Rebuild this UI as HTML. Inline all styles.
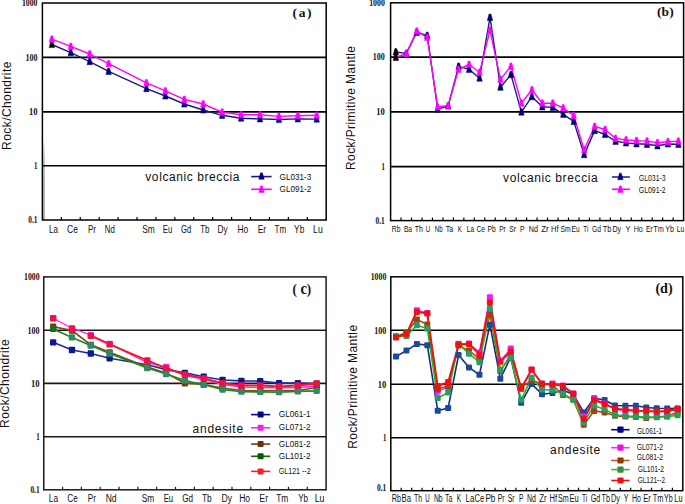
<!DOCTYPE html>
<html><head><meta charset="utf-8"><style>
html,body{margin:0;padding:0;background:#fff;}
svg{display:block;}
</style></head><body>
<svg width="685" height="504" viewBox="0 0 685 504">
<rect width="685" height="504" fill="#fff"/>
<defs><linearGradient id="gs" x1="0" y1="0" x2="0" y2="1"><stop offset="0" stop-color="#fff"/><stop offset="0.25" stop-color="#c4c4c4"/><stop offset="1" stop-color="#b4b4b4"/></linearGradient></defs>
<rect x="43.1" y="140" width="1.9" height="80" fill="url(#gs)"/>
<line x1="42.4" y1="57.4" x2="326.2" y2="57.4" stroke="#000" stroke-width="1.6"/>
<line x1="42.4" y1="111.9" x2="326.2" y2="111.9" stroke="#000" stroke-width="1.6"/>
<line x1="42.4" y1="165.7" x2="326.2" y2="165.7" stroke="#000" stroke-width="1.6"/>
<rect x="42.4" y="3" width="283.8" height="217" fill="none" stroke="#000" stroke-width="1.5"/>
<line x1="61.32" y1="220" x2="61.32" y2="217" stroke="#000" stroke-width="1.2"/>
<line x1="80.24" y1="220" x2="80.24" y2="217" stroke="#000" stroke-width="1.2"/>
<line x1="99.16" y1="220" x2="99.16" y2="217" stroke="#000" stroke-width="1.2"/>
<line x1="118.08" y1="220" x2="118.08" y2="217" stroke="#000" stroke-width="1.2"/>
<line x1="137" y1="220" x2="137" y2="217" stroke="#000" stroke-width="1.2"/>
<line x1="155.92" y1="220" x2="155.92" y2="217" stroke="#000" stroke-width="1.2"/>
<line x1="174.84" y1="220" x2="174.84" y2="217" stroke="#000" stroke-width="1.2"/>
<line x1="193.76" y1="220" x2="193.76" y2="217" stroke="#000" stroke-width="1.2"/>
<line x1="212.68" y1="220" x2="212.68" y2="217" stroke="#000" stroke-width="1.2"/>
<line x1="231.6" y1="220" x2="231.6" y2="217" stroke="#000" stroke-width="1.2"/>
<line x1="250.52" y1="220" x2="250.52" y2="217" stroke="#000" stroke-width="1.2"/>
<line x1="269.44" y1="220" x2="269.44" y2="217" stroke="#000" stroke-width="1.2"/>
<line x1="288.36" y1="220" x2="288.36" y2="217" stroke="#000" stroke-width="1.2"/>
<line x1="307.28" y1="220" x2="307.28" y2="217" stroke="#000" stroke-width="1.2"/>
<line x1="390.6" y1="57.1" x2="683.6" y2="57.1" stroke="#000" stroke-width="1.6"/>
<line x1="390.6" y1="111.9" x2="683.6" y2="111.9" stroke="#000" stroke-width="1.6"/>
<line x1="390.6" y1="166.6" x2="683.6" y2="166.6" stroke="#000" stroke-width="1.6"/>
<rect x="390.6" y="2.8" width="293" height="217.8" fill="none" stroke="#000" stroke-width="1.5"/>
<line x1="401.06" y1="220.6" x2="401.06" y2="217.6" stroke="#000" stroke-width="1.2"/>
<line x1="411.53" y1="220.6" x2="411.53" y2="217.6" stroke="#000" stroke-width="1.2"/>
<line x1="421.99" y1="220.6" x2="421.99" y2="217.6" stroke="#000" stroke-width="1.2"/>
<line x1="432.46" y1="220.6" x2="432.46" y2="217.6" stroke="#000" stroke-width="1.2"/>
<line x1="442.92" y1="220.6" x2="442.92" y2="217.6" stroke="#000" stroke-width="1.2"/>
<line x1="453.39" y1="220.6" x2="453.39" y2="217.6" stroke="#000" stroke-width="1.2"/>
<line x1="463.85" y1="220.6" x2="463.85" y2="217.6" stroke="#000" stroke-width="1.2"/>
<line x1="474.31" y1="220.6" x2="474.31" y2="217.6" stroke="#000" stroke-width="1.2"/>
<line x1="484.78" y1="220.6" x2="484.78" y2="217.6" stroke="#000" stroke-width="1.2"/>
<line x1="495.24" y1="220.6" x2="495.24" y2="217.6" stroke="#000" stroke-width="1.2"/>
<line x1="505.71" y1="220.6" x2="505.71" y2="217.6" stroke="#000" stroke-width="1.2"/>
<line x1="516.17" y1="220.6" x2="516.17" y2="217.6" stroke="#000" stroke-width="1.2"/>
<line x1="526.64" y1="220.6" x2="526.64" y2="217.6" stroke="#000" stroke-width="1.2"/>
<line x1="537.1" y1="220.6" x2="537.1" y2="217.6" stroke="#000" stroke-width="1.2"/>
<line x1="547.56" y1="220.6" x2="547.56" y2="217.6" stroke="#000" stroke-width="1.2"/>
<line x1="558.03" y1="220.6" x2="558.03" y2="217.6" stroke="#000" stroke-width="1.2"/>
<line x1="568.49" y1="220.6" x2="568.49" y2="217.6" stroke="#000" stroke-width="1.2"/>
<line x1="578.96" y1="220.6" x2="578.96" y2="217.6" stroke="#000" stroke-width="1.2"/>
<line x1="589.42" y1="220.6" x2="589.42" y2="217.6" stroke="#000" stroke-width="1.2"/>
<line x1="599.89" y1="220.6" x2="599.89" y2="217.6" stroke="#000" stroke-width="1.2"/>
<line x1="610.35" y1="220.6" x2="610.35" y2="217.6" stroke="#000" stroke-width="1.2"/>
<line x1="620.81" y1="220.6" x2="620.81" y2="217.6" stroke="#000" stroke-width="1.2"/>
<line x1="631.28" y1="220.6" x2="631.28" y2="217.6" stroke="#000" stroke-width="1.2"/>
<line x1="641.74" y1="220.6" x2="641.74" y2="217.6" stroke="#000" stroke-width="1.2"/>
<line x1="652.21" y1="220.6" x2="652.21" y2="217.6" stroke="#000" stroke-width="1.2"/>
<line x1="662.67" y1="220.6" x2="662.67" y2="217.6" stroke="#000" stroke-width="1.2"/>
<line x1="673.14" y1="220.6" x2="673.14" y2="217.6" stroke="#000" stroke-width="1.2"/>
<line x1="43.75" y1="330.2" x2="326.1" y2="330.2" stroke="#221616" stroke-width="1.6"/>
<line x1="43.75" y1="383.4" x2="326.1" y2="383.4" stroke="#221616" stroke-width="1.6"/>
<line x1="43.75" y1="436.7" x2="326.1" y2="436.7" stroke="#221616" stroke-width="1.6"/>
<rect x="43.75" y="276.9" width="282.35" height="212.9" fill="none" stroke="#221616" stroke-width="1.5"/>
<line x1="62.57" y1="489.8" x2="62.57" y2="486.8" stroke="#221616" stroke-width="1.2"/>
<line x1="81.4" y1="489.8" x2="81.4" y2="486.8" stroke="#221616" stroke-width="1.2"/>
<line x1="100.22" y1="489.8" x2="100.22" y2="486.8" stroke="#221616" stroke-width="1.2"/>
<line x1="119.04" y1="489.8" x2="119.04" y2="486.8" stroke="#221616" stroke-width="1.2"/>
<line x1="137.87" y1="489.8" x2="137.87" y2="486.8" stroke="#221616" stroke-width="1.2"/>
<line x1="156.69" y1="489.8" x2="156.69" y2="486.8" stroke="#221616" stroke-width="1.2"/>
<line x1="175.51" y1="489.8" x2="175.51" y2="486.8" stroke="#221616" stroke-width="1.2"/>
<line x1="194.34" y1="489.8" x2="194.34" y2="486.8" stroke="#221616" stroke-width="1.2"/>
<line x1="213.16" y1="489.8" x2="213.16" y2="486.8" stroke="#221616" stroke-width="1.2"/>
<line x1="231.98" y1="489.8" x2="231.98" y2="486.8" stroke="#221616" stroke-width="1.2"/>
<line x1="250.81" y1="489.8" x2="250.81" y2="486.8" stroke="#221616" stroke-width="1.2"/>
<line x1="269.63" y1="489.8" x2="269.63" y2="486.8" stroke="#221616" stroke-width="1.2"/>
<line x1="288.45" y1="489.8" x2="288.45" y2="486.8" stroke="#221616" stroke-width="1.2"/>
<line x1="307.28" y1="489.8" x2="307.28" y2="486.8" stroke="#221616" stroke-width="1.2"/>
<line x1="390.8" y1="330.2" x2="682.8" y2="330.2" stroke="#000" stroke-width="1.6"/>
<line x1="390.8" y1="384.3" x2="682.8" y2="384.3" stroke="#000" stroke-width="1.6"/>
<line x1="390.8" y1="437.8" x2="682.8" y2="437.8" stroke="#000" stroke-width="1.6"/>
<rect x="390.8" y="276.8" width="292" height="213.9" fill="none" stroke="#000" stroke-width="1.5"/>
<line x1="401.23" y1="490.7" x2="401.23" y2="487.7" stroke="#000" stroke-width="1.2"/>
<line x1="411.66" y1="490.7" x2="411.66" y2="487.7" stroke="#000" stroke-width="1.2"/>
<line x1="422.09" y1="490.7" x2="422.09" y2="487.7" stroke="#000" stroke-width="1.2"/>
<line x1="432.51" y1="490.7" x2="432.51" y2="487.7" stroke="#000" stroke-width="1.2"/>
<line x1="442.94" y1="490.7" x2="442.94" y2="487.7" stroke="#000" stroke-width="1.2"/>
<line x1="453.37" y1="490.7" x2="453.37" y2="487.7" stroke="#000" stroke-width="1.2"/>
<line x1="463.8" y1="490.7" x2="463.8" y2="487.7" stroke="#000" stroke-width="1.2"/>
<line x1="474.23" y1="490.7" x2="474.23" y2="487.7" stroke="#000" stroke-width="1.2"/>
<line x1="484.66" y1="490.7" x2="484.66" y2="487.7" stroke="#000" stroke-width="1.2"/>
<line x1="495.09" y1="490.7" x2="495.09" y2="487.7" stroke="#000" stroke-width="1.2"/>
<line x1="505.51" y1="490.7" x2="505.51" y2="487.7" stroke="#000" stroke-width="1.2"/>
<line x1="515.94" y1="490.7" x2="515.94" y2="487.7" stroke="#000" stroke-width="1.2"/>
<line x1="526.37" y1="490.7" x2="526.37" y2="487.7" stroke="#000" stroke-width="1.2"/>
<line x1="536.8" y1="490.7" x2="536.8" y2="487.7" stroke="#000" stroke-width="1.2"/>
<line x1="547.23" y1="490.7" x2="547.23" y2="487.7" stroke="#000" stroke-width="1.2"/>
<line x1="557.66" y1="490.7" x2="557.66" y2="487.7" stroke="#000" stroke-width="1.2"/>
<line x1="568.09" y1="490.7" x2="568.09" y2="487.7" stroke="#000" stroke-width="1.2"/>
<line x1="578.51" y1="490.7" x2="578.51" y2="487.7" stroke="#000" stroke-width="1.2"/>
<line x1="588.94" y1="490.7" x2="588.94" y2="487.7" stroke="#000" stroke-width="1.2"/>
<line x1="599.37" y1="490.7" x2="599.37" y2="487.7" stroke="#000" stroke-width="1.2"/>
<line x1="609.8" y1="490.7" x2="609.8" y2="487.7" stroke="#000" stroke-width="1.2"/>
<line x1="620.23" y1="490.7" x2="620.23" y2="487.7" stroke="#000" stroke-width="1.2"/>
<line x1="630.66" y1="490.7" x2="630.66" y2="487.7" stroke="#000" stroke-width="1.2"/>
<line x1="641.09" y1="490.7" x2="641.09" y2="487.7" stroke="#000" stroke-width="1.2"/>
<line x1="651.51" y1="490.7" x2="651.51" y2="487.7" stroke="#000" stroke-width="1.2"/>
<line x1="661.94" y1="490.7" x2="661.94" y2="487.7" stroke="#000" stroke-width="1.2"/>
<line x1="672.37" y1="490.7" x2="672.37" y2="487.7" stroke="#000" stroke-width="1.2"/>
<polyline points="51.86,44.5 70.78,52.6 89.7,61.6 108.62,71.4 146.46,88.6 165.38,96 184.3,104 203.22,110 222.14,115.3 241.06,118.2 259.98,118.9 278.9,119.5 297.82,118.9 316.74,119.1" fill="none" stroke="#1a1a80" stroke-width="1.4" stroke-linejoin="round"/>
<polyline points="51.86,39.1 70.78,46.4 89.7,54 108.62,63.6 146.46,82.8 165.38,90.8 184.3,99.4 203.22,104 222.14,112.1 241.06,114.7 259.98,114.8 278.9,116.4 297.82,115.7 316.74,115.2" fill="none" stroke="#ff00ff" stroke-width="1.4" stroke-linejoin="round"/>
<polygon points="50.96,41.1 52.76,41.1 54.56,47.6 49.16,47.6" fill="#000" stroke="#000" stroke-width="0.5" stroke-linejoin="round"/>
<polygon points="69.88,49.2 71.68,49.2 73.48,55.7 68.08,55.7" fill="#000080" stroke="#000080" stroke-width="0.5" stroke-linejoin="round"/>
<polygon points="88.8,58.2 90.6,58.2 92.4,64.7 87,64.7" fill="#000080" stroke="#000080" stroke-width="0.5" stroke-linejoin="round"/>
<polygon points="107.72,68 109.52,68 111.32,74.5 105.92,74.5" fill="#000080" stroke="#000080" stroke-width="0.5" stroke-linejoin="round"/>
<polygon points="145.56,85.2 147.36,85.2 149.16,91.7 143.76,91.7" fill="#000080" stroke="#000080" stroke-width="0.5" stroke-linejoin="round"/>
<polygon points="164.48,92.6 166.28,92.6 168.08,99.1 162.68,99.1" fill="#000080" stroke="#000080" stroke-width="0.5" stroke-linejoin="round"/>
<polygon points="183.4,100.6 185.2,100.6 187,107.1 181.6,107.1" fill="#000080" stroke="#000080" stroke-width="0.5" stroke-linejoin="round"/>
<polygon points="202.32,106.6 204.12,106.6 205.92,113.1 200.52,113.1" fill="#000080" stroke="#000080" stroke-width="0.5" stroke-linejoin="round"/>
<polygon points="221.24,111.9 223.04,111.9 224.84,118.4 219.44,118.4" fill="#000080" stroke="#000080" stroke-width="0.5" stroke-linejoin="round"/>
<polygon points="240.16,114.8 241.96,114.8 243.76,121.3 238.36,121.3" fill="#000080" stroke="#000080" stroke-width="0.5" stroke-linejoin="round"/>
<polygon points="259.08,115.5 260.88,115.5 262.68,122 257.28,122" fill="#000080" stroke="#000080" stroke-width="0.5" stroke-linejoin="round"/>
<polygon points="278,116.1 279.8,116.1 281.6,122.6 276.2,122.6" fill="#000080" stroke="#000080" stroke-width="0.5" stroke-linejoin="round"/>
<polygon points="296.92,115.5 298.72,115.5 300.52,122 295.12,122" fill="#000080" stroke="#000080" stroke-width="0.5" stroke-linejoin="round"/>
<polygon points="315.84,115.7 317.64,115.7 319.44,122.2 314.04,122.2" fill="#000080" stroke="#000080" stroke-width="0.5" stroke-linejoin="round"/>
<polygon points="50.96,35.7 52.76,35.7 54.56,42.2 49.16,42.2" fill="#ff00ff" stroke="#ff00ff" stroke-width="0.5" stroke-linejoin="round"/>
<polygon points="69.88,43 71.68,43 73.48,49.5 68.08,49.5" fill="#ff00ff" stroke="#ff00ff" stroke-width="0.5" stroke-linejoin="round"/>
<polygon points="88.8,50.6 90.6,50.6 92.4,57.1 87,57.1" fill="#ff00ff" stroke="#ff00ff" stroke-width="0.5" stroke-linejoin="round"/>
<polygon points="107.72,60.2 109.52,60.2 111.32,66.7 105.92,66.7" fill="#ff00ff" stroke="#ff00ff" stroke-width="0.5" stroke-linejoin="round"/>
<polygon points="145.56,79.4 147.36,79.4 149.16,85.9 143.76,85.9" fill="#ff00ff" stroke="#ff00ff" stroke-width="0.5" stroke-linejoin="round"/>
<polygon points="164.48,87.4 166.28,87.4 168.08,93.9 162.68,93.9" fill="#ff00ff" stroke="#ff00ff" stroke-width="0.5" stroke-linejoin="round"/>
<polygon points="183.4,96 185.2,96 187,102.5 181.6,102.5" fill="#ff00ff" stroke="#ff00ff" stroke-width="0.5" stroke-linejoin="round"/>
<polygon points="202.32,100.6 204.12,100.6 205.92,107.1 200.52,107.1" fill="#ff00ff" stroke="#ff00ff" stroke-width="0.5" stroke-linejoin="round"/>
<polygon points="221.24,108.7 223.04,108.7 224.84,115.2 219.44,115.2" fill="#ff00ff" stroke="#ff00ff" stroke-width="0.5" stroke-linejoin="round"/>
<polygon points="240.16,111.3 241.96,111.3 243.76,117.8 238.36,117.8" fill="#ff00ff" stroke="#ff00ff" stroke-width="0.5" stroke-linejoin="round"/>
<polygon points="259.08,111.4 260.88,111.4 262.68,117.9 257.28,117.9" fill="#ff00ff" stroke="#ff00ff" stroke-width="0.5" stroke-linejoin="round"/>
<polygon points="278,113 279.8,113 281.6,119.5 276.2,119.5" fill="#ff00ff" stroke="#ff00ff" stroke-width="0.5" stroke-linejoin="round"/>
<polygon points="296.92,112.3 298.72,112.3 300.52,118.8 295.12,118.8" fill="#ff00ff" stroke="#ff00ff" stroke-width="0.5" stroke-linejoin="round"/>
<polygon points="315.84,111.8 317.64,111.8 319.44,118.3 314.04,118.3" fill="#ff00ff" stroke="#ff00ff" stroke-width="0.5" stroke-linejoin="round"/>
<polyline points="395.83,52 406.3,53.4 416.76,32.5 427.23,35.5 437.69,109.2 448.15,106 458.62,66.3 469.08,69.3 479.55,78.2 490.01,17.4 500.48,87.2 510.94,74.6 521.4,112.1 531.87,96.7 542.33,106.8 552.8,107.4 563.26,114.3 573.73,121.3 584.19,154.6 594.65,130.6 605.12,134.5 615.58,141.3 626.05,142.9 636.51,143.8 646.98,144.3 657.44,145.8 667.9,144 678.37,144.3" fill="none" stroke="#1a1a80" stroke-width="1.4" stroke-linejoin="round"/>
<polyline points="395.83,57.5 406.3,53.6 416.76,31.1 427.23,37.3 437.69,106.8 448.15,105.6 458.62,69.3 469.08,64.5 479.55,72.3 490.01,30.4 500.48,79.4 510.94,66.3 521.4,103.2 531.87,89.8 542.33,103.2 552.8,103.2 563.26,108 573.73,115.7 584.19,149.7 594.65,126.4 605.12,129.5 615.58,138.4 626.05,140 636.51,140.6 646.98,141.1 657.44,142.7 667.9,141.7 678.37,141.1" fill="none" stroke="#ff00ff" stroke-width="1.4" stroke-linejoin="round"/>
<polygon points="394.93,48.6 396.73,48.6 398.53,55.1 393.13,55.1" fill="#000" stroke="#000" stroke-width="0.5" stroke-linejoin="round"/>
<polygon points="405.4,50 407.2,50 409,56.5 403.6,56.5" fill="#000070" stroke="#000070" stroke-width="0.5" stroke-linejoin="round"/>
<polygon points="415.86,29.1 417.66,29.1 419.46,35.6 414.06,35.6" fill="#000070" stroke="#000070" stroke-width="0.5" stroke-linejoin="round"/>
<polygon points="426.33,32.1 428.12,32.1 429.93,38.6 424.53,38.6" fill="#000070" stroke="#000070" stroke-width="0.5" stroke-linejoin="round"/>
<polygon points="436.79,105.8 438.59,105.8 440.39,112.3 434.99,112.3" fill="#000070" stroke="#000070" stroke-width="0.5" stroke-linejoin="round"/>
<polygon points="447.25,102.6 449.05,102.6 450.85,109.1 445.45,109.1" fill="#000070" stroke="#000070" stroke-width="0.5" stroke-linejoin="round"/>
<polygon points="457.72,62.9 459.52,62.9 461.32,69.4 455.92,69.4" fill="#000070" stroke="#000070" stroke-width="0.5" stroke-linejoin="round"/>
<polygon points="468.18,65.9 469.98,65.9 471.78,72.4 466.38,72.4" fill="#000070" stroke="#000070" stroke-width="0.5" stroke-linejoin="round"/>
<polygon points="478.65,74.8 480.45,74.8 482.25,81.3 476.85,81.3" fill="#000070" stroke="#000070" stroke-width="0.5" stroke-linejoin="round"/>
<polygon points="489.11,14 490.91,14 492.71,20.5 487.31,20.5" fill="#000070" stroke="#000070" stroke-width="0.5" stroke-linejoin="round"/>
<polygon points="499.58,83.8 501.38,83.8 503.18,90.3 497.78,90.3" fill="#000070" stroke="#000070" stroke-width="0.5" stroke-linejoin="round"/>
<polygon points="510.04,71.2 511.84,71.2 513.64,77.7 508.24,77.7" fill="#000070" stroke="#000070" stroke-width="0.5" stroke-linejoin="round"/>
<polygon points="520.5,108.7 522.3,108.7 524.1,115.2 518.7,115.2" fill="#000070" stroke="#000070" stroke-width="0.5" stroke-linejoin="round"/>
<polygon points="530.97,93.3 532.77,93.3 534.57,99.8 529.17,99.8" fill="#000070" stroke="#000070" stroke-width="0.5" stroke-linejoin="round"/>
<polygon points="541.43,103.4 543.23,103.4 545.03,109.9 539.63,109.9" fill="#000070" stroke="#000070" stroke-width="0.5" stroke-linejoin="round"/>
<polygon points="551.9,104 553.7,104 555.5,110.5 550.1,110.5" fill="#000070" stroke="#000070" stroke-width="0.5" stroke-linejoin="round"/>
<polygon points="562.36,110.9 564.16,110.9 565.96,117.4 560.56,117.4" fill="#000070" stroke="#000070" stroke-width="0.5" stroke-linejoin="round"/>
<polygon points="572.83,117.9 574.62,117.9 576.43,124.4 571.02,124.4" fill="#000070" stroke="#000070" stroke-width="0.5" stroke-linejoin="round"/>
<polygon points="583.29,151.2 585.09,151.2 586.89,157.7 581.49,157.7" fill="#000070" stroke="#000070" stroke-width="0.5" stroke-linejoin="round"/>
<polygon points="593.75,127.2 595.55,127.2 597.35,133.7 591.95,133.7" fill="#000070" stroke="#000070" stroke-width="0.5" stroke-linejoin="round"/>
<polygon points="604.22,131.1 606.02,131.1 607.82,137.6 602.42,137.6" fill="#000070" stroke="#000070" stroke-width="0.5" stroke-linejoin="round"/>
<polygon points="614.68,137.9 616.48,137.9 618.28,144.4 612.88,144.4" fill="#000070" stroke="#000070" stroke-width="0.5" stroke-linejoin="round"/>
<polygon points="625.15,139.5 626.95,139.5 628.75,146 623.35,146" fill="#000070" stroke="#000070" stroke-width="0.5" stroke-linejoin="round"/>
<polygon points="635.61,140.4 637.41,140.4 639.21,146.9 633.81,146.9" fill="#000070" stroke="#000070" stroke-width="0.5" stroke-linejoin="round"/>
<polygon points="646.08,140.9 647.88,140.9 649.68,147.4 644.27,147.4" fill="#000070" stroke="#000070" stroke-width="0.5" stroke-linejoin="round"/>
<polygon points="656.54,142.4 658.34,142.4 660.14,148.9 654.74,148.9" fill="#000070" stroke="#000070" stroke-width="0.5" stroke-linejoin="round"/>
<polygon points="667,140.6 668.8,140.6 670.6,147.1 665.2,147.1" fill="#000070" stroke="#000070" stroke-width="0.5" stroke-linejoin="round"/>
<polygon points="677.47,140.9 679.27,140.9 681.07,147.4 675.67,147.4" fill="#000070" stroke="#000070" stroke-width="0.5" stroke-linejoin="round"/>
<polygon points="394.93,54.1 396.73,54.1 398.53,60.6 393.13,60.6" fill="#000" stroke="#000" stroke-width="0.5" stroke-linejoin="round"/>
<polygon points="405.4,50.2 407.2,50.2 409,56.7 403.6,56.7" fill="#ff00ff" stroke="#ff00ff" stroke-width="0.5" stroke-linejoin="round"/>
<polygon points="415.86,27.7 417.66,27.7 419.46,34.2 414.06,34.2" fill="#ff00ff" stroke="#ff00ff" stroke-width="0.5" stroke-linejoin="round"/>
<polygon points="426.33,33.9 428.12,33.9 429.93,40.4 424.53,40.4" fill="#ff00ff" stroke="#ff00ff" stroke-width="0.5" stroke-linejoin="round"/>
<polygon points="436.79,103.4 438.59,103.4 440.39,109.9 434.99,109.9" fill="#ff00ff" stroke="#ff00ff" stroke-width="0.5" stroke-linejoin="round"/>
<polygon points="447.25,102.2 449.05,102.2 450.85,108.7 445.45,108.7" fill="#ff00ff" stroke="#ff00ff" stroke-width="0.5" stroke-linejoin="round"/>
<polygon points="457.72,65.9 459.52,65.9 461.32,72.4 455.92,72.4" fill="#ff00ff" stroke="#ff00ff" stroke-width="0.5" stroke-linejoin="round"/>
<polygon points="468.18,61.1 469.98,61.1 471.78,67.6 466.38,67.6" fill="#ff00ff" stroke="#ff00ff" stroke-width="0.5" stroke-linejoin="round"/>
<polygon points="478.65,68.9 480.45,68.9 482.25,75.4 476.85,75.4" fill="#ff00ff" stroke="#ff00ff" stroke-width="0.5" stroke-linejoin="round"/>
<polygon points="489.11,27 490.91,27 492.71,33.5 487.31,33.5" fill="#ff00ff" stroke="#ff00ff" stroke-width="0.5" stroke-linejoin="round"/>
<polygon points="499.58,76 501.38,76 503.18,82.5 497.78,82.5" fill="#ff00ff" stroke="#ff00ff" stroke-width="0.5" stroke-linejoin="round"/>
<polygon points="510.04,62.9 511.84,62.9 513.64,69.4 508.24,69.4" fill="#ff00ff" stroke="#ff00ff" stroke-width="0.5" stroke-linejoin="round"/>
<polygon points="520.5,99.8 522.3,99.8 524.1,106.3 518.7,106.3" fill="#ff00ff" stroke="#ff00ff" stroke-width="0.5" stroke-linejoin="round"/>
<polygon points="530.97,86.4 532.77,86.4 534.57,92.9 529.17,92.9" fill="#ff00ff" stroke="#ff00ff" stroke-width="0.5" stroke-linejoin="round"/>
<polygon points="541.43,99.8 543.23,99.8 545.03,106.3 539.63,106.3" fill="#ff00ff" stroke="#ff00ff" stroke-width="0.5" stroke-linejoin="round"/>
<polygon points="551.9,99.8 553.7,99.8 555.5,106.3 550.1,106.3" fill="#ff00ff" stroke="#ff00ff" stroke-width="0.5" stroke-linejoin="round"/>
<polygon points="562.36,104.6 564.16,104.6 565.96,111.1 560.56,111.1" fill="#ff00ff" stroke="#ff00ff" stroke-width="0.5" stroke-linejoin="round"/>
<polygon points="572.83,112.3 574.62,112.3 576.43,118.8 571.02,118.8" fill="#ff00ff" stroke="#ff00ff" stroke-width="0.5" stroke-linejoin="round"/>
<polygon points="583.29,146.3 585.09,146.3 586.89,152.8 581.49,152.8" fill="#ff00ff" stroke="#ff00ff" stroke-width="0.5" stroke-linejoin="round"/>
<polygon points="593.75,123 595.55,123 597.35,129.5 591.95,129.5" fill="#ff00ff" stroke="#ff00ff" stroke-width="0.5" stroke-linejoin="round"/>
<polygon points="604.22,126.1 606.02,126.1 607.82,132.6 602.42,132.6" fill="#ff00ff" stroke="#ff00ff" stroke-width="0.5" stroke-linejoin="round"/>
<polygon points="614.68,135 616.48,135 618.28,141.5 612.88,141.5" fill="#ff00ff" stroke="#ff00ff" stroke-width="0.5" stroke-linejoin="round"/>
<polygon points="625.15,136.6 626.95,136.6 628.75,143.1 623.35,143.1" fill="#ff00ff" stroke="#ff00ff" stroke-width="0.5" stroke-linejoin="round"/>
<polygon points="635.61,137.2 637.41,137.2 639.21,143.7 633.81,143.7" fill="#ff00ff" stroke="#ff00ff" stroke-width="0.5" stroke-linejoin="round"/>
<polygon points="646.08,137.7 647.88,137.7 649.68,144.2 644.27,144.2" fill="#ff00ff" stroke="#ff00ff" stroke-width="0.5" stroke-linejoin="round"/>
<polygon points="656.54,139.3 658.34,139.3 660.14,145.8 654.74,145.8" fill="#ff00ff" stroke="#ff00ff" stroke-width="0.5" stroke-linejoin="round"/>
<polygon points="667,138.3 668.8,138.3 670.6,144.8 665.2,144.8" fill="#ff00ff" stroke="#ff00ff" stroke-width="0.5" stroke-linejoin="round"/>
<polygon points="677.47,137.7 679.27,137.7 681.07,144.2 675.67,144.2" fill="#ff00ff" stroke="#ff00ff" stroke-width="0.5" stroke-linejoin="round"/>
<polyline points="53.16,342.3 71.98,350 90.81,353.5 109.63,358.3 147.28,364.8 166.1,369.6 184.93,372.9 203.75,376.7 222.57,380 241.4,380.9 260.22,381.1 279.04,383.1 297.87,383.1 316.69,383.7" fill="none" stroke="#1a2ab0" stroke-width="1.6" stroke-linejoin="round"/>
<polyline points="53.16,318.2 71.98,328.2 90.81,335.2 109.63,343.8 147.28,362.6 166.1,367 184.93,375.6 203.75,379.4 222.57,384.5 241.4,387 260.22,387.5 279.04,387.8 297.87,387.5 316.69,386" fill="none" stroke="#ff22ff" stroke-width="1.3" stroke-linejoin="round"/>
<polyline points="53.16,326.6 71.98,330.5 90.81,344.8 109.63,352.3 147.28,367 166.1,373 184.93,383.3 203.75,384.5 222.57,388 241.4,390.5 260.22,390.8 279.04,390.8 297.87,390.5 316.69,387.5" fill="none" stroke="#8b4513" stroke-width="1.6" stroke-linejoin="round"/>
<polyline points="53.16,328.9 71.98,337.4 90.81,345.5 109.63,353.5 147.28,368 166.1,374.1 184.93,380.6 203.75,384.8 222.57,389.5 241.4,391.7 260.22,391.9 279.04,392.2 297.87,391.4 316.69,390.9" fill="none" stroke="#1a8a1a" stroke-width="1.6" stroke-linejoin="round"/>
<polyline points="90.81,335.9 109.63,344.4 147.28,360.4 166.1,368.3 184.93,374.5 203.75,378.4 222.57,383.1 241.4,385.5 260.22,385.5 279.04,386.5 297.87,385.5 316.69,383.5" fill="none" stroke="#f01a28" stroke-width="1.9" stroke-linejoin="round"/>
<rect x="50.01" y="339.15" width="6.3" height="6.3" rx="1" fill="#0a1a8a"/>
<rect x="68.83" y="346.85" width="6.3" height="6.3" rx="1" fill="#0a1a8a"/>
<rect x="87.66" y="350.35" width="6.3" height="6.3" rx="1" fill="#0a1a8a"/>
<rect x="106.48" y="355.15" width="6.3" height="6.3" rx="1" fill="#0a1a8a"/>
<rect x="144.13" y="361.65" width="6.3" height="6.3" rx="1" fill="#0a1a8a"/>
<rect x="162.95" y="366.45" width="6.3" height="6.3" rx="1" fill="#0a1a8a"/>
<rect x="181.78" y="369.75" width="6.3" height="6.3" rx="1" fill="#0a1a8a"/>
<rect x="200.6" y="373.55" width="6.3" height="6.3" rx="1" fill="#0a1a8a"/>
<rect x="219.42" y="376.85" width="6.3" height="6.3" rx="1" fill="#0a1a8a"/>
<rect x="238.25" y="377.75" width="6.3" height="6.3" rx="1" fill="#0a1a8a"/>
<rect x="257.07" y="377.95" width="6.3" height="6.3" rx="1" fill="#0a1a8a"/>
<rect x="275.89" y="379.95" width="6.3" height="6.3" rx="1" fill="#0a1a8a"/>
<rect x="294.72" y="379.95" width="6.3" height="6.3" rx="1" fill="#0a1a8a"/>
<rect x="313.54" y="380.55" width="6.3" height="6.3" rx="1" fill="#0a1a8a"/>
<rect x="50.01" y="315.05" width="6.3" height="6.3" rx="1" fill="#ff22ff"/>
<rect x="68.83" y="325.05" width="6.3" height="6.3" rx="1" fill="#ff22ff"/>
<rect x="87.66" y="332.05" width="6.3" height="6.3" rx="1" fill="#ff22ff"/>
<rect x="106.48" y="340.65" width="6.3" height="6.3" rx="1" fill="#ff22ff"/>
<rect x="144.13" y="359.45" width="6.3" height="6.3" rx="1" fill="#ff22ff"/>
<rect x="162.95" y="363.85" width="6.3" height="6.3" rx="1" fill="#ff22ff"/>
<rect x="181.78" y="372.45" width="6.3" height="6.3" rx="1" fill="#ff22ff"/>
<rect x="200.6" y="376.25" width="6.3" height="6.3" rx="1" fill="#ff22ff"/>
<rect x="219.42" y="381.35" width="6.3" height="6.3" rx="1" fill="#ff22ff"/>
<rect x="238.25" y="383.85" width="6.3" height="6.3" rx="1" fill="#ff22ff"/>
<rect x="257.07" y="384.35" width="6.3" height="6.3" rx="1" fill="#ff22ff"/>
<rect x="275.89" y="384.65" width="6.3" height="6.3" rx="1" fill="#ff22ff"/>
<rect x="294.72" y="384.35" width="6.3" height="6.3" rx="1" fill="#ff22ff"/>
<rect x="313.54" y="382.85" width="6.3" height="6.3" rx="1" fill="#ff22ff"/>
<rect x="50.01" y="323.45" width="6.3" height="6.3" rx="1" fill="#7a3a10"/>
<rect x="68.83" y="327.35" width="6.3" height="6.3" rx="1" fill="#7a3a10"/>
<rect x="87.66" y="341.65" width="6.3" height="6.3" rx="1" fill="#7a3a10"/>
<rect x="106.48" y="349.15" width="6.3" height="6.3" rx="1" fill="#7a3a10"/>
<rect x="144.13" y="363.85" width="6.3" height="6.3" rx="1" fill="#7a3a10"/>
<rect x="162.95" y="369.85" width="6.3" height="6.3" rx="1" fill="#7a3a10"/>
<rect x="181.78" y="380.15" width="6.3" height="6.3" rx="1" fill="#7a3a10"/>
<rect x="200.6" y="381.35" width="6.3" height="6.3" rx="1" fill="#7a3a10"/>
<rect x="219.42" y="384.85" width="6.3" height="6.3" rx="1" fill="#7a3a10"/>
<rect x="238.25" y="387.35" width="6.3" height="6.3" rx="1" fill="#7a3a10"/>
<rect x="257.07" y="387.65" width="6.3" height="6.3" rx="1" fill="#7a3a10"/>
<rect x="275.89" y="387.65" width="6.3" height="6.3" rx="1" fill="#7a3a10"/>
<rect x="294.72" y="387.35" width="6.3" height="6.3" rx="1" fill="#7a3a10"/>
<rect x="313.54" y="384.35" width="6.3" height="6.3" rx="1" fill="#7a3a10"/>
<rect x="50.01" y="325.75" width="6.3" height="6.3" rx="1" fill="#1a6b1a"/>
<rect x="68.83" y="334.25" width="6.3" height="6.3" rx="1" fill="#2e8b6a"/>
<rect x="87.66" y="342.35" width="6.3" height="6.3" rx="1" fill="#2e8b6a"/>
<rect x="106.48" y="350.35" width="6.3" height="6.3" rx="1" fill="#2e8b6a"/>
<rect x="144.13" y="364.85" width="6.3" height="6.3" rx="1" fill="#2e8b6a"/>
<rect x="162.95" y="370.95" width="6.3" height="6.3" rx="1" fill="#2e8b6a"/>
<rect x="181.78" y="377.45" width="6.3" height="6.3" rx="1" fill="#2e8b6a"/>
<rect x="200.6" y="381.65" width="6.3" height="6.3" rx="1" fill="#2e8b6a"/>
<rect x="219.42" y="386.35" width="6.3" height="6.3" rx="1" fill="#2e8b6a"/>
<rect x="238.25" y="388.55" width="6.3" height="6.3" rx="1" fill="#2e8b6a"/>
<rect x="257.07" y="388.75" width="6.3" height="6.3" rx="1" fill="#2e8b6a"/>
<rect x="275.89" y="389.05" width="6.3" height="6.3" rx="1" fill="#2e8b6a"/>
<rect x="294.72" y="388.25" width="6.3" height="6.3" rx="1" fill="#2e8b6a"/>
<rect x="313.54" y="387.75" width="6.3" height="6.3" rx="1" fill="#2e8b6a"/>
<rect x="50.01" y="315.25" width="6.3" height="6.3" rx="1" fill="#ee1144"/>
<rect x="68.83" y="325.95" width="6.3" height="6.3" rx="1" fill="#ee1144"/>
<rect x="87.66" y="332.75" width="6.3" height="6.3" rx="1" fill="#ee1144"/>
<rect x="106.48" y="341.25" width="6.3" height="6.3" rx="1" fill="#ee1144"/>
<rect x="144.13" y="357.25" width="6.3" height="6.3" rx="1" fill="#ee1144"/>
<rect x="162.95" y="365.15" width="6.3" height="6.3" rx="1" fill="#ee1144"/>
<rect x="181.78" y="371.35" width="6.3" height="6.3" rx="1" fill="#ee1144"/>
<rect x="200.6" y="375.25" width="6.3" height="6.3" rx="1" fill="#ee1144"/>
<rect x="219.42" y="379.95" width="6.3" height="6.3" rx="1" fill="#ee1144"/>
<rect x="238.25" y="382.35" width="6.3" height="6.3" rx="1" fill="#ee1144"/>
<rect x="257.07" y="382.35" width="6.3" height="6.3" rx="1" fill="#ee1144"/>
<rect x="275.89" y="383.35" width="6.3" height="6.3" rx="1" fill="#ee1144"/>
<rect x="294.72" y="382.35" width="6.3" height="6.3" rx="1" fill="#ee1144"/>
<rect x="313.54" y="380.35" width="6.3" height="6.3" rx="1" fill="#ee1144"/>
<polyline points="396.01,356.5 406.44,350.6 416.87,343.9 427.3,345.2 437.73,410.7 448.16,407.9 458.59,355 469.01,367.4 479.44,374.8 489.87,324.7 500.3,378.7 510.73,357.5 521.16,402.8 531.59,383.9 542.01,394.2 552.44,393 562.87,390.3 573.3,394.3 583.73,412.5 594.16,398.2 604.59,400 615.01,405.5 625.44,405.7 635.87,405.7 646.3,407.5 656.73,408.2 667.16,408.5 677.59,408.4" fill="none" stroke="#1a2a7a" stroke-width="1.6" stroke-linejoin="round"/>
<polyline points="396.01,337 406.44,333.8 416.87,310.3 427.3,313 437.73,391.4 448.16,387 458.59,344 469.01,343.6 479.44,352.4 489.87,297.2 500.3,360.8 510.73,348.6 521.16,388.5 531.59,369.4 542.01,383.8 552.44,383.4 562.87,385.5 573.3,393.4 583.73,416.3 594.16,399 604.59,403.5 615.01,409.3 625.44,410.3 635.87,411.1 646.3,411.4 656.73,411.9 667.16,411.5 677.59,409.3" fill="none" stroke="#ff11ff" stroke-width="1.3" stroke-linejoin="round"/>
<polyline points="396.01,336.5 406.44,332.5 416.87,319.6 427.3,324.4 437.73,389 448.16,385.9 458.59,345.5 469.01,350.6 479.44,358.8 489.87,314.5 500.3,371 510.73,355 521.16,387.3 531.59,380.5 542.01,383.5 552.44,385 562.87,395 573.3,399.5 583.73,424.8 594.16,410.9 604.59,412.4 615.01,415.7 625.44,416.6 635.87,417 646.3,418 656.73,417 667.16,416 677.59,412.5" fill="none" stroke="#b04a10" stroke-width="1.6" stroke-linejoin="round"/>
<polyline points="396.01,336.3 406.44,336 416.87,325.2 427.3,328.5 437.73,398 448.16,392.6 458.59,343.8 469.01,353.7 479.44,362.2 489.87,308.7 500.3,369.8 510.73,357.4 521.16,399.8 531.59,377.8 542.01,389.5 552.44,390 562.87,393.8 573.3,399.8 583.73,422.7 594.16,405.5 604.59,409.4 615.01,414.7 625.44,415.8 635.87,416.6 646.3,417 656.73,417.2 667.16,416.8 677.59,415.2" fill="none" stroke="#22bb22" stroke-width="1.6" stroke-linejoin="round"/>
<polyline points="396.01,337.4 406.44,334.1 416.87,311.9 427.3,313.6 437.73,386.3 448.16,381.9 458.59,344.7 469.01,344 479.44,354.3 489.87,302.5 500.3,361.8 510.73,351.4 521.16,388.7 531.59,369.8 542.01,384 552.44,384.4 562.87,385.9 573.3,393.8 583.73,419 594.16,400 604.59,403.9 615.01,408.7 625.44,409.8 635.87,410.6 646.3,410.9 656.73,411.4 667.16,411 677.59,408.7" fill="none" stroke="#ee1111" stroke-width="1.9" stroke-linejoin="round"/>
<rect x="393.01" y="353.5" width="6" height="6" rx="1" fill="#1a4a9a"/>
<rect x="403.44" y="347.6" width="6" height="6" rx="1" fill="#1a4a9a"/>
<rect x="413.87" y="340.9" width="6" height="6" rx="1" fill="#1a4a9a"/>
<rect x="424.3" y="342.2" width="6" height="6" rx="1" fill="#1a4a9a"/>
<rect x="434.73" y="407.7" width="6" height="6" rx="1" fill="#1a4a9a"/>
<rect x="445.16" y="404.9" width="6" height="6" rx="1" fill="#1a4a9a"/>
<rect x="455.59" y="352" width="6" height="6" rx="1" fill="#1a4a9a"/>
<rect x="466.01" y="364.4" width="6" height="6" rx="1" fill="#1a4a9a"/>
<rect x="476.44" y="371.8" width="6" height="6" rx="1" fill="#1a4a9a"/>
<rect x="486.87" y="321.7" width="6" height="6" rx="1" fill="#1a4a9a"/>
<rect x="497.3" y="375.7" width="6" height="6" rx="1" fill="#1a4a9a"/>
<rect x="507.73" y="354.5" width="6" height="6" rx="1" fill="#1a4a9a"/>
<rect x="518.16" y="399.8" width="6" height="6" rx="1" fill="#1a4a9a"/>
<rect x="528.59" y="380.9" width="6" height="6" rx="1" fill="#1a4a9a"/>
<rect x="539.01" y="391.2" width="6" height="6" rx="1" fill="#1a4a9a"/>
<rect x="549.44" y="390" width="6" height="6" rx="1" fill="#1a4a9a"/>
<rect x="559.87" y="387.3" width="6" height="6" rx="1" fill="#1a4a9a"/>
<rect x="570.3" y="391.3" width="6" height="6" rx="1" fill="#1a4a9a"/>
<rect x="580.73" y="409.5" width="6" height="6" rx="1" fill="#1a4a9a"/>
<rect x="591.16" y="395.2" width="6" height="6" rx="1" fill="#1a4a9a"/>
<rect x="601.59" y="397" width="6" height="6" rx="1" fill="#1a4a9a"/>
<rect x="612.01" y="402.5" width="6" height="6" rx="1" fill="#1a4a9a"/>
<rect x="622.44" y="402.7" width="6" height="6" rx="1" fill="#1a4a9a"/>
<rect x="632.87" y="402.7" width="6" height="6" rx="1" fill="#1a4a9a"/>
<rect x="643.3" y="404.5" width="6" height="6" rx="1" fill="#1a4a9a"/>
<rect x="653.73" y="405.2" width="6" height="6" rx="1" fill="#1a4a9a"/>
<rect x="664.16" y="405.5" width="6" height="6" rx="1" fill="#1a4a9a"/>
<rect x="674.59" y="405.4" width="6" height="6" rx="1" fill="#1a4a9a"/>
<rect x="393.01" y="334" width="6" height="6" rx="1" fill="#ff11ff"/>
<rect x="403.44" y="330.8" width="6" height="6" rx="1" fill="#ff11ff"/>
<rect x="413.87" y="307.3" width="6" height="6" rx="1" fill="#ff11ff"/>
<rect x="424.3" y="310" width="6" height="6" rx="1" fill="#ff11ff"/>
<rect x="434.73" y="388.4" width="6" height="6" rx="1" fill="#ff11ff"/>
<rect x="445.16" y="384" width="6" height="6" rx="1" fill="#ff11ff"/>
<rect x="455.59" y="341" width="6" height="6" rx="1" fill="#ff11ff"/>
<rect x="466.01" y="340.6" width="6" height="6" rx="1" fill="#ff11ff"/>
<rect x="476.44" y="349.4" width="6" height="6" rx="1" fill="#ff11ff"/>
<rect x="486.87" y="294.2" width="6" height="6" rx="1" fill="#ff11ff"/>
<rect x="497.3" y="357.8" width="6" height="6" rx="1" fill="#ff11ff"/>
<rect x="507.73" y="345.6" width="6" height="6" rx="1" fill="#ff11ff"/>
<rect x="518.16" y="385.5" width="6" height="6" rx="1" fill="#ff11ff"/>
<rect x="528.59" y="366.4" width="6" height="6" rx="1" fill="#ff11ff"/>
<rect x="539.01" y="380.8" width="6" height="6" rx="1" fill="#ff11ff"/>
<rect x="549.44" y="380.4" width="6" height="6" rx="1" fill="#ff11ff"/>
<rect x="559.87" y="382.5" width="6" height="6" rx="1" fill="#ff11ff"/>
<rect x="570.3" y="390.4" width="6" height="6" rx="1" fill="#ff11ff"/>
<rect x="580.73" y="413.3" width="6" height="6" rx="1" fill="#ff11ff"/>
<rect x="591.16" y="396" width="6" height="6" rx="1" fill="#ff11ff"/>
<rect x="601.59" y="400.5" width="6" height="6" rx="1" fill="#ff11ff"/>
<rect x="612.01" y="406.3" width="6" height="6" rx="1" fill="#ff11ff"/>
<rect x="622.44" y="407.3" width="6" height="6" rx="1" fill="#ff11ff"/>
<rect x="632.87" y="408.1" width="6" height="6" rx="1" fill="#ff11ff"/>
<rect x="643.3" y="408.4" width="6" height="6" rx="1" fill="#ff11ff"/>
<rect x="653.73" y="408.9" width="6" height="6" rx="1" fill="#ff11ff"/>
<rect x="664.16" y="408.5" width="6" height="6" rx="1" fill="#ff11ff"/>
<rect x="674.59" y="406.3" width="6" height="6" rx="1" fill="#ff11ff"/>
<rect x="393.01" y="333.5" width="6" height="6" rx="1" fill="#a0400a"/>
<rect x="403.44" y="329.5" width="6" height="6" rx="1" fill="#a0400a"/>
<rect x="413.87" y="316.6" width="6" height="6" rx="1" fill="#a0400a"/>
<rect x="424.3" y="321.4" width="6" height="6" rx="1" fill="#a0400a"/>
<rect x="434.73" y="386" width="6" height="6" rx="1" fill="#a0400a"/>
<rect x="445.16" y="382.9" width="6" height="6" rx="1" fill="#a0400a"/>
<rect x="455.59" y="342.5" width="6" height="6" rx="1" fill="#a0400a"/>
<rect x="466.01" y="347.6" width="6" height="6" rx="1" fill="#a0400a"/>
<rect x="476.44" y="355.8" width="6" height="6" rx="1" fill="#a0400a"/>
<rect x="486.87" y="311.5" width="6" height="6" rx="1" fill="#a0400a"/>
<rect x="497.3" y="368" width="6" height="6" rx="1" fill="#a0400a"/>
<rect x="507.73" y="352" width="6" height="6" rx="1" fill="#a0400a"/>
<rect x="518.16" y="384.3" width="6" height="6" rx="1" fill="#a0400a"/>
<rect x="528.59" y="377.5" width="6" height="6" rx="1" fill="#a0400a"/>
<rect x="539.01" y="380.5" width="6" height="6" rx="1" fill="#a0400a"/>
<rect x="549.44" y="382" width="6" height="6" rx="1" fill="#a0400a"/>
<rect x="559.87" y="392" width="6" height="6" rx="1" fill="#a0400a"/>
<rect x="570.3" y="396.5" width="6" height="6" rx="1" fill="#a0400a"/>
<rect x="580.73" y="421.8" width="6" height="6" rx="1" fill="#a0400a"/>
<rect x="591.16" y="407.9" width="6" height="6" rx="1" fill="#a0400a"/>
<rect x="601.59" y="409.4" width="6" height="6" rx="1" fill="#a0400a"/>
<rect x="612.01" y="412.7" width="6" height="6" rx="1" fill="#a0400a"/>
<rect x="622.44" y="413.6" width="6" height="6" rx="1" fill="#a0400a"/>
<rect x="632.87" y="414" width="6" height="6" rx="1" fill="#a0400a"/>
<rect x="643.3" y="415" width="6" height="6" rx="1" fill="#a0400a"/>
<rect x="653.73" y="414" width="6" height="6" rx="1" fill="#a0400a"/>
<rect x="664.16" y="413" width="6" height="6" rx="1" fill="#a0400a"/>
<rect x="674.59" y="409.5" width="6" height="6" rx="1" fill="#a0400a"/>
<rect x="393.01" y="333.3" width="6" height="6" rx="1" fill="#2a9a6a"/>
<rect x="403.44" y="333" width="6" height="6" rx="1" fill="#2a9a6a"/>
<rect x="413.87" y="322.2" width="6" height="6" rx="1" fill="#2a9a6a"/>
<rect x="424.3" y="325.5" width="6" height="6" rx="1" fill="#2a9a6a"/>
<rect x="434.73" y="395" width="6" height="6" rx="1" fill="#2a9a6a"/>
<rect x="445.16" y="389.6" width="6" height="6" rx="1" fill="#2a9a6a"/>
<rect x="455.59" y="340.8" width="6" height="6" rx="1" fill="#2a9a6a"/>
<rect x="466.01" y="350.7" width="6" height="6" rx="1" fill="#2a9a6a"/>
<rect x="476.44" y="359.2" width="6" height="6" rx="1" fill="#2a9a6a"/>
<rect x="486.87" y="305.7" width="6" height="6" rx="1" fill="#2a9a6a"/>
<rect x="497.3" y="366.8" width="6" height="6" rx="1" fill="#2a9a6a"/>
<rect x="507.73" y="354.4" width="6" height="6" rx="1" fill="#2a9a6a"/>
<rect x="518.16" y="396.8" width="6" height="6" rx="1" fill="#2a9a6a"/>
<rect x="528.59" y="374.8" width="6" height="6" rx="1" fill="#2a9a6a"/>
<rect x="539.01" y="386.5" width="6" height="6" rx="1" fill="#2a9a6a"/>
<rect x="549.44" y="387" width="6" height="6" rx="1" fill="#2a9a6a"/>
<rect x="559.87" y="390.8" width="6" height="6" rx="1" fill="#2a9a6a"/>
<rect x="570.3" y="396.8" width="6" height="6" rx="1" fill="#2a9a6a"/>
<rect x="580.73" y="419.7" width="6" height="6" rx="1" fill="#2a9a6a"/>
<rect x="591.16" y="402.5" width="6" height="6" rx="1" fill="#2a9a6a"/>
<rect x="601.59" y="406.4" width="6" height="6" rx="1" fill="#2a9a6a"/>
<rect x="612.01" y="411.7" width="6" height="6" rx="1" fill="#2a9a6a"/>
<rect x="622.44" y="412.8" width="6" height="6" rx="1" fill="#2a9a6a"/>
<rect x="632.87" y="413.6" width="6" height="6" rx="1" fill="#2a9a6a"/>
<rect x="643.3" y="414" width="6" height="6" rx="1" fill="#2a9a6a"/>
<rect x="653.73" y="414.2" width="6" height="6" rx="1" fill="#2a9a6a"/>
<rect x="664.16" y="413.8" width="6" height="6" rx="1" fill="#2a9a6a"/>
<rect x="674.59" y="412.2" width="6" height="6" rx="1" fill="#2a9a6a"/>
<rect x="393.01" y="334.4" width="6" height="6" rx="1" fill="#ee1111"/>
<rect x="403.44" y="331.1" width="6" height="6" rx="1" fill="#ee1111"/>
<rect x="413.87" y="308.9" width="6" height="6" rx="1" fill="#ee1111"/>
<rect x="424.3" y="310.6" width="6" height="6" rx="1" fill="#ee1111"/>
<rect x="434.73" y="383.3" width="6" height="6" rx="1" fill="#ee1111"/>
<rect x="445.16" y="378.9" width="6" height="6" rx="1" fill="#ee1111"/>
<rect x="455.59" y="341.7" width="6" height="6" rx="1" fill="#ee1111"/>
<rect x="466.01" y="341" width="6" height="6" rx="1" fill="#ee1111"/>
<rect x="476.44" y="351.3" width="6" height="6" rx="1" fill="#ee1111"/>
<rect x="486.87" y="299.5" width="6" height="6" rx="1" fill="#ee1111"/>
<rect x="497.3" y="358.8" width="6" height="6" rx="1" fill="#ee1111"/>
<rect x="507.73" y="348.4" width="6" height="6" rx="1" fill="#ee1111"/>
<rect x="518.16" y="385.7" width="6" height="6" rx="1" fill="#ee1111"/>
<rect x="528.59" y="366.8" width="6" height="6" rx="1" fill="#ee1111"/>
<rect x="539.01" y="381" width="6" height="6" rx="1" fill="#ee1111"/>
<rect x="549.44" y="381.4" width="6" height="6" rx="1" fill="#ee1111"/>
<rect x="559.87" y="382.9" width="6" height="6" rx="1" fill="#ee1111"/>
<rect x="570.3" y="390.8" width="6" height="6" rx="1" fill="#ee1111"/>
<rect x="580.73" y="416" width="6" height="6" rx="1" fill="#ee1111"/>
<rect x="591.16" y="397" width="6" height="6" rx="1" fill="#ee1111"/>
<rect x="601.59" y="400.9" width="6" height="6" rx="1" fill="#ee1111"/>
<rect x="612.01" y="405.7" width="6" height="6" rx="1" fill="#ee1111"/>
<rect x="622.44" y="406.8" width="6" height="6" rx="1" fill="#ee1111"/>
<rect x="632.87" y="407.6" width="6" height="6" rx="1" fill="#ee1111"/>
<rect x="643.3" y="407.9" width="6" height="6" rx="1" fill="#ee1111"/>
<rect x="653.73" y="408.4" width="6" height="6" rx="1" fill="#ee1111"/>
<rect x="664.16" y="408" width="6" height="6" rx="1" fill="#ee1111"/>
<rect x="674.59" y="405.7" width="6" height="6" rx="1" fill="#ee1111"/>
<text x="21.9" y="6.3" font-family="Liberation Serif" font-size="9.6" font-weight="bold" fill="#111" text-anchor="start" textLength="15.6" lengthAdjust="spacingAndGlyphs">1000</text>
<text x="25.5" y="60.7" font-family="Liberation Serif" font-size="9.6" font-weight="bold" fill="#111" text-anchor="start" textLength="12" lengthAdjust="spacingAndGlyphs">100</text>
<text x="29" y="115.2" font-family="Liberation Serif" font-size="9.6" font-weight="bold" fill="#111" text-anchor="start" textLength="8.5" lengthAdjust="spacingAndGlyphs">10</text>
<text x="34.1" y="169" font-family="Liberation Serif" font-size="9.6" font-weight="bold" fill="#111" text-anchor="start" textLength="3.4" lengthAdjust="spacingAndGlyphs">1</text>
<text x="28.3" y="223.3" font-family="Liberation Serif" font-size="9.6" font-weight="bold" fill="#111" text-anchor="start" textLength="9.2" lengthAdjust="spacingAndGlyphs">0.1</text>
<text x="369.2" y="6.1" font-family="Liberation Serif" font-size="9.6" font-weight="bold" fill="#111" text-anchor="start" textLength="15.6" lengthAdjust="spacingAndGlyphs">1000</text>
<text x="372.8" y="60.4" font-family="Liberation Serif" font-size="9.6" font-weight="bold" fill="#111" text-anchor="start" textLength="12" lengthAdjust="spacingAndGlyphs">100</text>
<text x="376.3" y="115.2" font-family="Liberation Serif" font-size="9.6" font-weight="bold" fill="#111" text-anchor="start" textLength="8.5" lengthAdjust="spacingAndGlyphs">10</text>
<text x="381.4" y="169.9" font-family="Liberation Serif" font-size="9.6" font-weight="bold" fill="#111" text-anchor="start" textLength="3.4" lengthAdjust="spacingAndGlyphs">1</text>
<text x="375.6" y="223.9" font-family="Liberation Serif" font-size="9.6" font-weight="bold" fill="#111" text-anchor="start" textLength="9.2" lengthAdjust="spacingAndGlyphs">0.1</text>
<text x="24" y="280.2" font-family="Liberation Serif" font-size="9.6" font-weight="bold" fill="#111" text-anchor="start" textLength="15.6" lengthAdjust="spacingAndGlyphs">1000</text>
<text x="27.6" y="333.5" font-family="Liberation Serif" font-size="9.6" font-weight="bold" fill="#111" text-anchor="start" textLength="12" lengthAdjust="spacingAndGlyphs">100</text>
<text x="31.1" y="386.7" font-family="Liberation Serif" font-size="9.6" font-weight="bold" fill="#111" text-anchor="start" textLength="8.5" lengthAdjust="spacingAndGlyphs">10</text>
<text x="36.2" y="440" font-family="Liberation Serif" font-size="9.6" font-weight="bold" fill="#111" text-anchor="start" textLength="3.4" lengthAdjust="spacingAndGlyphs">1</text>
<text x="30.4" y="493.1" font-family="Liberation Serif" font-size="9.6" font-weight="bold" fill="#111" text-anchor="start" textLength="9.2" lengthAdjust="spacingAndGlyphs">0.1</text>
<text x="370.7" y="280.1" font-family="Liberation Serif" font-size="9.6" font-weight="bold" fill="#111" text-anchor="start" textLength="15.6" lengthAdjust="spacingAndGlyphs">1000</text>
<text x="374.3" y="333.5" font-family="Liberation Serif" font-size="9.6" font-weight="bold" fill="#111" text-anchor="start" textLength="12" lengthAdjust="spacingAndGlyphs">100</text>
<text x="377.8" y="387.6" font-family="Liberation Serif" font-size="9.6" font-weight="bold" fill="#111" text-anchor="start" textLength="8.5" lengthAdjust="spacingAndGlyphs">10</text>
<text x="382.9" y="441.1" font-family="Liberation Serif" font-size="9.6" font-weight="bold" fill="#111" text-anchor="start" textLength="3.4" lengthAdjust="spacingAndGlyphs">1</text>
<text x="377.1" y="491.4" font-family="Liberation Serif" font-size="9.6" font-weight="bold" fill="#111" text-anchor="start" textLength="9.2" lengthAdjust="spacingAndGlyphs">0.1</text>
<text x="11" y="149.9" font-family="Liberation Sans" font-size="12" font-weight="normal" fill="#111" text-anchor="start" textLength="88.3" lengthAdjust="spacing" transform="rotate(-90 11 149.9)">Rock/Chondrite</text>
<text x="355.1" y="170" font-family="Liberation Sans" font-size="12" font-weight="normal" fill="#111" text-anchor="start" textLength="124" lengthAdjust="spacing" transform="rotate(-90 355.1 170)">Rock/Primitive Mantle</text>
<text x="8.9" y="427.9" font-family="Liberation Sans" font-size="12" font-weight="normal" fill="#111" text-anchor="start" textLength="88.5" lengthAdjust="spacing" transform="rotate(-90 8.9 427.9)">Rock/Chondrite</text>
<text x="357.2" y="448.8" font-family="Liberation Sans" font-size="12" font-weight="normal" fill="#111" text-anchor="start" textLength="123.9" lengthAdjust="spacing" transform="rotate(-90 357.2 448.8)">Rock/Primitive Mantle</text>
<text x="292.5" y="17" font-family="Liberation Serif" font-size="13.5" font-weight="bold" fill="#111" text-anchor="start" textLength="19" lengthAdjust="spacing">(a)</text>
<text x="656.9" y="16.4" font-family="Liberation Serif" font-size="13.5" font-weight="bold" fill="#111" text-anchor="start" textLength="16.8" lengthAdjust="spacing">(b)</text>
<text x="292.4" y="293.7" font-family="Liberation Serif" font-size="14.3" font-weight="bold" fill="#111" textLength="18.8" lengthAdjust="spacingAndGlyphs">(<tspan font-size="16"> c</tspan>)</text>
<text x="655.4" y="292.8" font-family="Liberation Serif" font-size="14.7" font-weight="bold" fill="#111" text-anchor="start" textLength="17.3" lengthAdjust="spacingAndGlyphs">(d)</text>
<text x="49.1" y="232.7" font-family="Liberation Sans" font-size="10.4" font-weight="normal" fill="#111" text-anchor="start" textLength="9" lengthAdjust="spacingAndGlyphs">La</text>
<text x="67.05" y="232.7" font-family="Liberation Sans" font-size="10.4" font-weight="normal" fill="#111" text-anchor="start" textLength="10.9" lengthAdjust="spacingAndGlyphs">Ce</text>
<text x="87.95" y="232.7" font-family="Liberation Sans" font-size="10.4" font-weight="normal" fill="#111" text-anchor="start" textLength="7.9" lengthAdjust="spacingAndGlyphs">Pr</text>
<text x="104.8" y="232.7" font-family="Liberation Sans" font-size="10.4" font-weight="normal" fill="#111" text-anchor="start" textLength="10" lengthAdjust="spacingAndGlyphs">Nd</text>
<text x="142.25" y="232.7" font-family="Liberation Sans" font-size="10.4" font-weight="normal" fill="#111" text-anchor="start" textLength="12.5" lengthAdjust="spacingAndGlyphs">Sm</text>
<text x="162.7" y="232.7" font-family="Liberation Sans" font-size="10.4" font-weight="normal" fill="#111" text-anchor="start" textLength="9.6" lengthAdjust="spacingAndGlyphs">Eu</text>
<text x="181.1" y="232.7" font-family="Liberation Sans" font-size="10.4" font-weight="normal" fill="#111" text-anchor="start" textLength="10.2" lengthAdjust="spacingAndGlyphs">Gd</text>
<text x="200.15" y="232.7" font-family="Liberation Sans" font-size="10.4" font-weight="normal" fill="#111" text-anchor="start" textLength="9.3" lengthAdjust="spacingAndGlyphs">Tb</text>
<text x="217.6" y="232.7" font-family="Liberation Sans" font-size="10.4" font-weight="normal" fill="#111" text-anchor="start" textLength="10.2" lengthAdjust="spacingAndGlyphs">Dy</text>
<text x="237.4" y="232.7" font-family="Liberation Sans" font-size="10.4" font-weight="normal" fill="#111" text-anchor="start" textLength="10.8" lengthAdjust="spacingAndGlyphs">Ho</text>
<text x="257.65" y="232.7" font-family="Liberation Sans" font-size="10.4" font-weight="normal" fill="#111" text-anchor="start" textLength="8.5" lengthAdjust="spacingAndGlyphs">Er</text>
<text x="274.45" y="232.7" font-family="Liberation Sans" font-size="10.4" font-weight="normal" fill="#111" text-anchor="start" textLength="11.7" lengthAdjust="spacingAndGlyphs">Tm</text>
<text x="294.1" y="232.7" font-family="Liberation Sans" font-size="10.4" font-weight="normal" fill="#111" text-anchor="start" textLength="10.2" lengthAdjust="spacingAndGlyphs">Yb</text>
<text x="313.1" y="232.7" font-family="Liberation Sans" font-size="10.4" font-weight="normal" fill="#111" text-anchor="start" textLength="9.6" lengthAdjust="spacingAndGlyphs">Lu</text>
<text x="391.85" y="232" font-family="Liberation Sans" font-size="9.8" font-weight="normal" fill="#111" text-anchor="start" textLength="8.7" lengthAdjust="spacingAndGlyphs">Rb</text>
<text x="403.9" y="232" font-family="Liberation Sans" font-size="9.8" font-weight="normal" fill="#111" text-anchor="start" textLength="8.2" lengthAdjust="spacingAndGlyphs">Ba</text>
<text x="414.8" y="232" font-family="Liberation Sans" font-size="9.8" font-weight="normal" fill="#111" text-anchor="start" textLength="8.2" lengthAdjust="spacingAndGlyphs">Th</text>
<text x="425.8" y="232" font-family="Liberation Sans" font-size="9.8" font-weight="normal" fill="#111" text-anchor="start" textLength="4.4" lengthAdjust="spacingAndGlyphs">U</text>
<text x="434.85" y="232" font-family="Liberation Sans" font-size="9.8" font-weight="normal" fill="#111" text-anchor="start" textLength="7.9" lengthAdjust="spacingAndGlyphs">Nb</text>
<text x="445.75" y="232" font-family="Liberation Sans" font-size="9.8" font-weight="normal" fill="#111" text-anchor="start" textLength="7.5" lengthAdjust="spacingAndGlyphs">Ta</text>
<text x="457.85" y="232" font-family="Liberation Sans" font-size="9.8" font-weight="normal" fill="#111" text-anchor="start" textLength="4.1" lengthAdjust="spacingAndGlyphs">K</text>
<text x="466.8" y="232" font-family="Liberation Sans" font-size="9.8" font-weight="normal" fill="#111" text-anchor="start" textLength="7.4" lengthAdjust="spacingAndGlyphs">La</text>
<text x="476.6" y="232" font-family="Liberation Sans" font-size="9.8" font-weight="normal" fill="#111" text-anchor="start" textLength="8.4" lengthAdjust="spacingAndGlyphs">Ce</text>
<text x="487.55" y="232" font-family="Liberation Sans" font-size="9.8" font-weight="normal" fill="#111" text-anchor="start" textLength="8.3" lengthAdjust="spacingAndGlyphs">Pb</text>
<text x="499.2" y="232" font-family="Liberation Sans" font-size="9.8" font-weight="normal" fill="#111" text-anchor="start" textLength="6.6" lengthAdjust="spacingAndGlyphs">Pr</text>
<text x="509.3" y="232" font-family="Liberation Sans" font-size="9.8" font-weight="normal" fill="#111" text-anchor="start" textLength="6.8" lengthAdjust="spacingAndGlyphs">Sr</text>
<text x="520" y="232" font-family="Liberation Sans" font-size="9.8" font-weight="normal" fill="#111" text-anchor="start" textLength="4.6" lengthAdjust="spacingAndGlyphs">P</text>
<text x="528.75" y="232" font-family="Liberation Sans" font-size="9.8" font-weight="normal" fill="#111" text-anchor="start" textLength="9.3" lengthAdjust="spacingAndGlyphs">Nd</text>
<text x="541.15" y="232" font-family="Liberation Sans" font-size="9.8" font-weight="normal" fill="#111" text-anchor="start" textLength="7.5" lengthAdjust="spacingAndGlyphs">Zr</text>
<text x="551.05" y="232" font-family="Liberation Sans" font-size="9.8" font-weight="normal" fill="#111" text-anchor="start" textLength="7.5" lengthAdjust="spacingAndGlyphs">Hf</text>
<text x="560.45" y="232" font-family="Liberation Sans" font-size="9.8" font-weight="normal" fill="#111" text-anchor="start" textLength="10.3" lengthAdjust="spacingAndGlyphs">Sm</text>
<text x="571.55" y="232" font-family="Liberation Sans" font-size="9.8" font-weight="normal" fill="#111" text-anchor="start" textLength="8.1" lengthAdjust="spacingAndGlyphs">Eu</text>
<text x="583.3" y="232" font-family="Liberation Sans" font-size="9.8" font-weight="normal" fill="#111" text-anchor="start" textLength="5" lengthAdjust="spacingAndGlyphs">Ti</text>
<text x="592.05" y="232" font-family="Liberation Sans" font-size="9.8" font-weight="normal" fill="#111" text-anchor="start" textLength="8.9" lengthAdjust="spacingAndGlyphs">Gd</text>
<text x="602.65" y="232" font-family="Liberation Sans" font-size="9.8" font-weight="normal" fill="#111" text-anchor="start" textLength="8.7" lengthAdjust="spacingAndGlyphs">Tb</text>
<text x="612.45" y="232" font-family="Liberation Sans" font-size="9.8" font-weight="normal" fill="#111" text-anchor="start" textLength="8.7" lengthAdjust="spacingAndGlyphs">Dy</text>
<text x="625.4" y="232" font-family="Liberation Sans" font-size="9.8" font-weight="normal" fill="#111" text-anchor="start" textLength="5" lengthAdjust="spacingAndGlyphs">Y</text>
<text x="633.65" y="232" font-family="Liberation Sans" font-size="9.8" font-weight="normal" fill="#111" text-anchor="start" textLength="9.1" lengthAdjust="spacingAndGlyphs">Ho</text>
<text x="645.9" y="232" font-family="Liberation Sans" font-size="9.8" font-weight="normal" fill="#111" text-anchor="start" textLength="6.8" lengthAdjust="spacingAndGlyphs">Er</text>
<text x="653.3" y="232" font-family="Liberation Sans" font-size="9.8" font-weight="normal" fill="#111" text-anchor="start" textLength="10.6" lengthAdjust="spacingAndGlyphs">Tm</text>
<text x="665.15" y="232" font-family="Liberation Sans" font-size="9.8" font-weight="normal" fill="#111" text-anchor="start" textLength="8.7" lengthAdjust="spacingAndGlyphs">Yb</text>
<text x="676.85" y="232" font-family="Liberation Sans" font-size="9.8" font-weight="normal" fill="#111" text-anchor="start" textLength="7.5" lengthAdjust="spacingAndGlyphs">Lu</text>
<text x="48.8" y="501.9" font-family="Liberation Sans" font-size="10.0" font-weight="normal" fill="#111" text-anchor="start" textLength="9.2" lengthAdjust="spacingAndGlyphs">La</text>
<text x="67.35" y="501.9" font-family="Liberation Sans" font-size="10.0" font-weight="normal" fill="#111" text-anchor="start" textLength="10.5" lengthAdjust="spacingAndGlyphs">Ce</text>
<text x="87.75" y="501.9" font-family="Liberation Sans" font-size="10.0" font-weight="normal" fill="#111" text-anchor="start" textLength="8.1" lengthAdjust="spacingAndGlyphs">Pr</text>
<text x="105.65" y="501.9" font-family="Liberation Sans" font-size="10.0" font-weight="normal" fill="#111" text-anchor="start" textLength="10.9" lengthAdjust="spacingAndGlyphs">Nd</text>
<text x="141.75" y="501.9" font-family="Liberation Sans" font-size="10.0" font-weight="normal" fill="#111" text-anchor="start" textLength="12.5" lengthAdjust="spacingAndGlyphs">Sm</text>
<text x="163.7" y="501.9" font-family="Liberation Sans" font-size="10.0" font-weight="normal" fill="#111" text-anchor="start" textLength="9.4" lengthAdjust="spacingAndGlyphs">Eu</text>
<text x="182.15" y="501.9" font-family="Liberation Sans" font-size="10.0" font-weight="normal" fill="#111" text-anchor="start" textLength="10.9" lengthAdjust="spacingAndGlyphs">Gd</text>
<text x="201.9" y="501.9" font-family="Liberation Sans" font-size="10.0" font-weight="normal" fill="#111" text-anchor="start" textLength="9.8" lengthAdjust="spacingAndGlyphs">Tb</text>
<text x="221.55" y="501.9" font-family="Liberation Sans" font-size="10.0" font-weight="normal" fill="#111" text-anchor="start" textLength="10.5" lengthAdjust="spacingAndGlyphs">Dy</text>
<text x="239.15" y="501.9" font-family="Liberation Sans" font-size="10.0" font-weight="normal" fill="#111" text-anchor="start" textLength="10.9" lengthAdjust="spacingAndGlyphs">Ho</text>
<text x="259.35" y="501.9" font-family="Liberation Sans" font-size="10.0" font-weight="normal" fill="#111" text-anchor="start" textLength="8.7" lengthAdjust="spacingAndGlyphs">Er</text>
<text x="276.25" y="501.9" font-family="Liberation Sans" font-size="10.0" font-weight="normal" fill="#111" text-anchor="start" textLength="12.1" lengthAdjust="spacingAndGlyphs">Tm</text>
<text x="298.15" y="501.9" font-family="Liberation Sans" font-size="10.0" font-weight="normal" fill="#111" text-anchor="start" textLength="9.9" lengthAdjust="spacingAndGlyphs">Yb</text>
<text x="314.7" y="501.9" font-family="Liberation Sans" font-size="10.0" font-weight="normal" fill="#111" text-anchor="start" textLength="9.8" lengthAdjust="spacingAndGlyphs">Lu</text>
<text x="391.75" y="501.6" font-family="Liberation Sans" font-size="10.0" font-weight="normal" fill="#111" text-anchor="start" textLength="9.3" lengthAdjust="spacingAndGlyphs">Rb</text>
<text x="401.6" y="501.6" font-family="Liberation Sans" font-size="10.0" font-weight="normal" fill="#111" text-anchor="start" textLength="9.4" lengthAdjust="spacingAndGlyphs">Ba</text>
<text x="413.95" y="501.6" font-family="Liberation Sans" font-size="10.0" font-weight="normal" fill="#111" text-anchor="start" textLength="8.1" lengthAdjust="spacingAndGlyphs">Th</text>
<text x="425.2" y="501.6" font-family="Liberation Sans" font-size="10.0" font-weight="normal" fill="#111" text-anchor="start" textLength="4.4" lengthAdjust="spacingAndGlyphs">U</text>
<text x="433.95" y="501.6" font-family="Liberation Sans" font-size="10.0" font-weight="normal" fill="#111" text-anchor="start" textLength="8.7" lengthAdjust="spacingAndGlyphs">Nb</text>
<text x="445.1" y="501.6" font-family="Liberation Sans" font-size="10.0" font-weight="normal" fill="#111" text-anchor="start" textLength="7.4" lengthAdjust="spacingAndGlyphs">Ta</text>
<text x="456.85" y="501.6" font-family="Liberation Sans" font-size="10.0" font-weight="normal" fill="#111" text-anchor="start" textLength="4.3" lengthAdjust="spacingAndGlyphs">K</text>
<text x="465.55" y="501.6" font-family="Liberation Sans" font-size="10.0" font-weight="normal" fill="#111" text-anchor="start" textLength="8.7" lengthAdjust="spacingAndGlyphs">La</text>
<text x="474.6" y="501.6" font-family="Liberation Sans" font-size="10.0" font-weight="normal" fill="#111" text-anchor="start" textLength="9.6" lengthAdjust="spacingAndGlyphs">Ce</text>
<text x="485.4" y="501.6" font-family="Liberation Sans" font-size="10.0" font-weight="normal" fill="#111" text-anchor="start" textLength="10" lengthAdjust="spacingAndGlyphs">Pb</text>
<text x="497.75" y="501.6" font-family="Liberation Sans" font-size="10.0" font-weight="normal" fill="#111" text-anchor="start" textLength="6.9" lengthAdjust="spacingAndGlyphs">Pr</text>
<text x="507.8" y="501.6" font-family="Liberation Sans" font-size="10.0" font-weight="normal" fill="#111" text-anchor="start" textLength="6.8" lengthAdjust="spacingAndGlyphs">Sr</text>
<text x="518.9" y="501.6" font-family="Liberation Sans" font-size="10.0" font-weight="normal" fill="#111" text-anchor="start" textLength="4.4" lengthAdjust="spacingAndGlyphs">P</text>
<text x="527.05" y="501.6" font-family="Liberation Sans" font-size="10.0" font-weight="normal" fill="#111" text-anchor="start" textLength="8.9" lengthAdjust="spacingAndGlyphs">Nd</text>
<text x="539.25" y="501.6" font-family="Liberation Sans" font-size="10.0" font-weight="normal" fill="#111" text-anchor="start" textLength="7.5" lengthAdjust="spacingAndGlyphs">Zr</text>
<text x="549.55" y="501.6" font-family="Liberation Sans" font-size="10.0" font-weight="normal" fill="#111" text-anchor="start" textLength="7.5" lengthAdjust="spacingAndGlyphs">Hf</text>
<text x="558.05" y="501.6" font-family="Liberation Sans" font-size="10.0" font-weight="normal" fill="#111" text-anchor="start" textLength="10.7" lengthAdjust="spacingAndGlyphs">Sm</text>
<text x="569.5" y="501.6" font-family="Liberation Sans" font-size="10.0" font-weight="normal" fill="#111" text-anchor="start" textLength="9.2" lengthAdjust="spacingAndGlyphs">Eu</text>
<text x="581.9" y="501.6" font-family="Liberation Sans" font-size="10.0" font-weight="normal" fill="#111" text-anchor="start" textLength="5.2" lengthAdjust="spacingAndGlyphs">Ti</text>
<text x="590.65" y="501.6" font-family="Liberation Sans" font-size="10.0" font-weight="normal" fill="#111" text-anchor="start" textLength="9.5" lengthAdjust="spacingAndGlyphs">Gd</text>
<text x="601.5" y="501.6" font-family="Liberation Sans" font-size="10.0" font-weight="normal" fill="#111" text-anchor="start" textLength="8.4" lengthAdjust="spacingAndGlyphs">Tb</text>
<text x="610.9" y="501.6" font-family="Liberation Sans" font-size="10.0" font-weight="normal" fill="#111" text-anchor="start" textLength="9" lengthAdjust="spacingAndGlyphs">Dy</text>
<text x="623.65" y="501.6" font-family="Liberation Sans" font-size="10.0" font-weight="normal" fill="#111" text-anchor="start" textLength="4.7" lengthAdjust="spacingAndGlyphs">Y</text>
<text x="632.05" y="501.6" font-family="Liberation Sans" font-size="10.0" font-weight="normal" fill="#111" text-anchor="start" textLength="8.9" lengthAdjust="spacingAndGlyphs">Ho</text>
<text x="643.35" y="501.6" font-family="Liberation Sans" font-size="10.0" font-weight="normal" fill="#111" text-anchor="start" textLength="7.5" lengthAdjust="spacingAndGlyphs">Er</text>
<text x="652.7" y="501.6" font-family="Liberation Sans" font-size="10.0" font-weight="normal" fill="#111" text-anchor="start" textLength="10.6" lengthAdjust="spacingAndGlyphs">Tm</text>
<text x="663.95" y="501.6" font-family="Liberation Sans" font-size="10.0" font-weight="normal" fill="#111" text-anchor="start" textLength="8.7" lengthAdjust="spacingAndGlyphs">Yb</text>
<text x="674.35" y="501.6" font-family="Liberation Sans" font-size="10.0" font-weight="normal" fill="#111" text-anchor="start" textLength="8.1" lengthAdjust="spacingAndGlyphs">Lu</text>
<text x="145.3" y="180.8" font-family="Liberation Sans" font-size="12" font-weight="normal" fill="#111" text-anchor="start" textLength="94.1" lengthAdjust="spacing">volcanic breccia</text>
<line x1="251.2" y1="176.6" x2="271.6" y2="176.6" stroke="#1a1a80" stroke-width="1.6"/><polygon points="260.6,172.8 262.4,172.8 264.2,179.3 258.8,179.3" fill="#000080" stroke="#000080" stroke-width="0.5" stroke-linejoin="round"/>
<line x1="251.2" y1="189.3" x2="271.6" y2="189.3" stroke="#ff00ff" stroke-width="1.6"/><polygon points="260.6,185.9 262.4,185.9 264.2,192.4 258.8,192.4" fill="#ff00ff" stroke="#ff00ff" stroke-width="0.5" stroke-linejoin="round"/>
<text x="279.6" y="180.3" font-family="Liberation Sans" font-size="9" font-weight="normal" fill="#111" text-anchor="start" textLength="31.6" lengthAdjust="spacingAndGlyphs">GL031-3</text>
<text x="279.6" y="191.7" font-family="Liberation Sans" font-size="9" font-weight="normal" fill="#111" text-anchor="start" textLength="31.6" lengthAdjust="spacingAndGlyphs">GL091-2</text>
<text x="503.1" y="181.6" font-family="Liberation Sans" font-size="12" font-weight="normal" fill="#111" text-anchor="start" textLength="94.6" lengthAdjust="spacing">volcanic breccia</text>
<line x1="611.9" y1="177.0" x2="629.9" y2="177.0" stroke="#2a2a90" stroke-width="1.6"/><polygon points="619.5,173.2 621.3,173.2 623.1,179.7 617.7,179.7" fill="#000080" stroke="#000080" stroke-width="0.5" stroke-linejoin="round"/>
<line x1="611.9" y1="189.3" x2="629.9" y2="189.3" stroke="#ff00ff" stroke-width="1.6"/><polygon points="619.5,185.9 621.3,185.9 623.1,192.4 617.7,192.4" fill="#ff00ff" stroke="#ff00ff" stroke-width="0.5" stroke-linejoin="round"/>
<text x="638.8" y="180.7" font-family="Liberation Sans" font-size="8.5" font-weight="normal" fill="#111" text-anchor="start" textLength="26.9" lengthAdjust="spacingAndGlyphs">GL031-3</text>
<text x="638.8" y="192.7" font-family="Liberation Sans" font-size="8.5" font-weight="normal" fill="#111" text-anchor="start" textLength="26.9" lengthAdjust="spacingAndGlyphs">GL091-2</text>
<text x="192.6" y="432.5" font-family="Liberation Sans" font-size="12" font-weight="normal" fill="#111" text-anchor="start" textLength="50.5" lengthAdjust="spacing">andesite</text>
<line x1="251.1" y1="414.6" x2="270.2" y2="414.6" stroke="#0000a0" stroke-width="1.6"/><rect x="257.6" y="411.6" width="6" height="6" rx="1" fill="#000080"/>
<text x="278.8" y="417.2" font-family="Liberation Sans" font-size="9" font-weight="normal" fill="#111" text-anchor="start" textLength="31.8" lengthAdjust="spacingAndGlyphs">GL061-1</text>
<line x1="251.1" y1="427.8" x2="270.2" y2="427.8" stroke="#ff22ff" stroke-width="1.6"/><rect x="257.6" y="424.8" width="6" height="6" rx="1" fill="#ee22ee"/>
<text x="278.8" y="430.4" font-family="Liberation Sans" font-size="9" font-weight="normal" fill="#111" text-anchor="start" textLength="31.8" lengthAdjust="spacingAndGlyphs">GL071-2</text>
<line x1="251.1" y1="444.1" x2="270.2" y2="444.1" stroke="#7a3a10" stroke-width="1.6"/><rect x="257.6" y="441.1" width="6" height="6" rx="1" fill="#6a3010"/>
<text x="278.8" y="446.7" font-family="Liberation Sans" font-size="9" font-weight="normal" fill="#111" text-anchor="start" textLength="31.8" lengthAdjust="spacingAndGlyphs">GL081-2</text>
<line x1="251.1" y1="456.3" x2="270.2" y2="456.3" stroke="#0a6a0a" stroke-width="1.6"/><rect x="257.6" y="453.3" width="6" height="6" rx="1" fill="#0a5a0a"/>
<text x="278.8" y="458.9" font-family="Liberation Sans" font-size="9" font-weight="normal" fill="#111" text-anchor="start" textLength="31.8" lengthAdjust="spacingAndGlyphs">GL101-2</text>
<line x1="251.1" y1="471.4" x2="270.2" y2="471.4" stroke="#ee2222" stroke-width="1.6"/><rect x="257.6" y="468.4" width="6" height="6" rx="1" fill="#ee2222"/>
<text x="278.8" y="474" font-family="Liberation Sans" font-size="9" font-weight="normal" fill="#111" text-anchor="start" textLength="31.8" lengthAdjust="spacingAndGlyphs">GL121 --2</text>
<text x="550.1" y="453.7" font-family="Liberation Sans" font-size="12" font-weight="normal" fill="#111" text-anchor="start" textLength="50.1" lengthAdjust="spacing">andesite</text>
<line x1="611.2" y1="429.7" x2="629.6" y2="429.7" stroke="#000090" stroke-width="1.6"/><rect x="617.4" y="426.6" width="6.2" height="6.2" rx="1" fill="#000080"/>
<text x="637" y="433.6" font-family="Liberation Sans" font-size="9" font-weight="normal" fill="#111" text-anchor="start" textLength="25" lengthAdjust="spacingAndGlyphs">GL061-1</text>
<line x1="611.2" y1="447.7" x2="629.6" y2="447.7" stroke="#ff33dd" stroke-width="1.6"/><rect x="617.4" y="444.6" width="6.2" height="6.2" rx="1" fill="#ee11dd"/>
<text x="636.7" y="449.9" font-family="Liberation Sans" font-size="9" font-weight="normal" fill="#111" text-anchor="start" textLength="26.3" lengthAdjust="spacingAndGlyphs">GL071-2</text>
<line x1="611.2" y1="460.5" x2="629.6" y2="460.5" stroke="#c05a1a" stroke-width="1.6"/><rect x="617.4" y="457.4" width="6.2" height="6.2" rx="1" fill="#8b3a0a"/>
<text x="636.7" y="459.8" font-family="Liberation Sans" font-size="9" font-weight="normal" fill="#111" text-anchor="start" textLength="26.3" lengthAdjust="spacingAndGlyphs">GL081-2</text>
<line x1="611.2" y1="469.6" x2="629.6" y2="469.6" stroke="#33bb33" stroke-width="1.6"/><rect x="617.4" y="466.5" width="6.2" height="6.2" rx="1" fill="#3a8a3a"/>
<text x="637.7" y="471.7" font-family="Liberation Sans" font-size="9" font-weight="normal" fill="#111" text-anchor="start" textLength="26.3" lengthAdjust="spacingAndGlyphs">GL101-2</text>
<line x1="611.2" y1="480.5" x2="629.6" y2="480.5" stroke="#ee1111" stroke-width="1.6"/><rect x="617.4" y="477.4" width="6.2" height="6.2" rx="1" fill="#ee1111"/>
<text x="637.7" y="482.7" font-family="Liberation Sans" font-size="9" font-weight="normal" fill="#111" text-anchor="start" textLength="27.3" lengthAdjust="spacingAndGlyphs">GL121--2</text>
</svg>
</body></html>
